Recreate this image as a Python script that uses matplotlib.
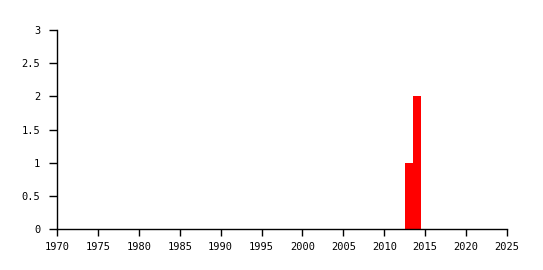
import matplotlib
matplotlib.use('Agg')
import matplotlib.pyplot as plt

years = [2013, 2014]
counts = [1, 2]
x_ticks = list(range(1970, 2030, 5))
y_ticks = [0, 0.5, 1, 1.5, 2, 2.5, 3]
y_labels = ['0', '0.5', '1', '1.5', '2', '2.5', '3']

plt.rcParams['font.family'] = ['DejaVu Sans Mono']
fig = plt.figure(figsize=(5.43, 2.70), dpi=100)
ax = fig.add_axes([57 / 543, 41 / 270, 450 / 543, 199 / 270])

ax.bar(years, counts, width=1.0, color='#ff0000', linewidth=0)

ax.set_xlim(1970, 2025)
ax.set_ylim(0, 3)
ax.set_xticks(x_ticks)
ax.set_yticks(y_ticks)
ax.set_yticklabels(y_labels)
for side in ['top', 'right']:
    ax.spines[side].set_visible(False)
for side in ['left', 'bottom']:
    ax.spines[side].set_linewidth(1)
    ax.spines[side].set_color('black')
ax.tick_params(axis='both', direction='out', width=1, labelsize=7.5, colors='black')
ax.tick_params(axis='y', length=6, pad=6)
ax.tick_params(axis='x', length=5, pad=4)

fig.savefig('out.png', dpi=100)
